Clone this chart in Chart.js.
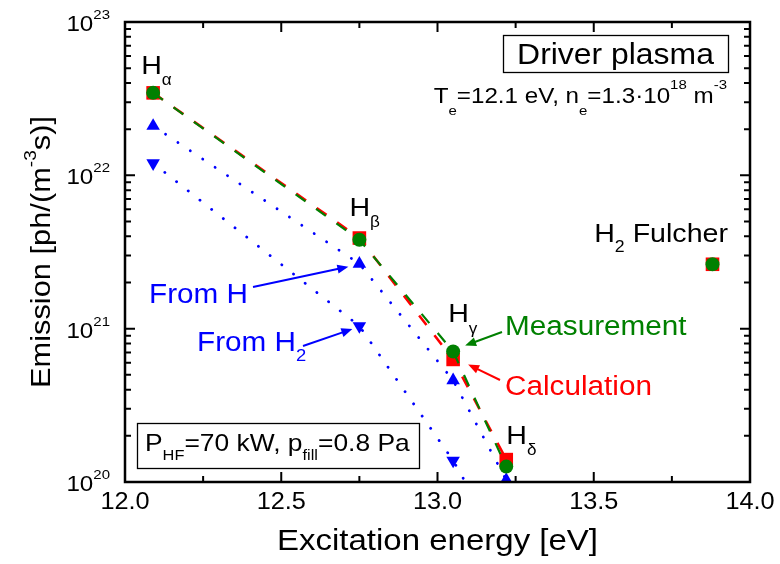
<!DOCTYPE html>
<html>
<head>
<meta charset="utf-8">
<script src="https://cdn.jsdelivr.net/npm/chart.js@4/dist/chart.umd.min.js"></script>
<style>html,body{margin:0;padding:0;background:#fff}canvas{display:block}</style>
</head>
<body>
<canvas id="c" width="780" height="564"></canvas>
<script>
// Balmer lines: excitation energy of the upper level and photon emission
const lineNames = ['α', 'β', 'γ', 'δ'];
const energies = [12.09, 12.75, 13.05, 13.22];
const measured = [3.45e22, 3.8e21, 7.1e20, 1.26e20];
const calculated = [3.45e22, 3.9e21, 6.3e20, 1.4e20];
const fromH = [2.1e22, 2.65e21, 4.6e20, 1.03e20];
const fromH2 = [1.2e22, 1.04e21, 1.38e20, 3.4e19];
// Molecular Fulcher band
const fulcherEnergy = [13.88];
const fulcherMeasured = [2.63e21];
const fulcherCalculated = [2.63e21];
// Axis ticks
const xTicks = [12.0, 12.5, 13.0, 13.5, 14.0];
const xMinorTicks = [12.25, 12.75, 13.25, 13.75];
const yExponents = [20, 21, 22, 23];

const GREEN = '#008000', RED = '#ff0000', BLUE = '#0000ff';
const FONT = '"Liberation Sans", Arial, Helvetica, sans-serif';
const SX = 1.1; // horizontal text stretch

const pts = (xs, ys) => xs.map((x, i) => ({ x, y: ys[i] }));
const fnt = s => s + 'px ' + FONT;

function richWidth(ctx, parts, size, o) {
  let w = 0;
  for (const [t, k] of parts) {
    ctx.font = fnt(k === 'n' ? size : size * o.ratio);
    w += ctx.measureText(t).width * SX;
  }
  return w;
}
function drawRich(ctx, parts, x, y, size, color, align, opts) {
  const o = Object.assign({ ratio: 0.62, sub: 0.38, sup: -0.5 }, opts || {});
  const w = richWidth(ctx, parts, size, o);
  let cx = align === 'center' ? x - w / 2 : align === 'right' ? x - w : x;
  ctx.save();
  ctx.fillStyle = color; ctx.textAlign = 'left'; ctx.textBaseline = 'alphabetic';
  for (const [t, k] of parts) {
    const s = k === 'n' ? size : size * o.ratio;
    const dy = k === 'sub' ? size * o.sub : k === 'sup' ? size * o.sup : 0;
    ctx.font = fnt(s);
    ctx.save(); ctx.translate(cx, y + dy); ctx.scale(SX, 1); ctx.fillText(t, 0, 0); ctx.restore();
    cx += ctx.measureText(t).width * SX;
  }
  ctx.restore();
  return w;
}
function arrow(ctx, x0, y0, x1, y1, color) {
  const a = Math.atan2(y1 - y0, x1 - x0), L = 11, W = 4.5;
  const c = Math.cos(a), s = Math.sin(a);
  ctx.save();
  ctx.strokeStyle = color; ctx.fillStyle = color; ctx.lineWidth = 2;
  ctx.beginPath(); ctx.moveTo(x0, y0); ctx.lineTo(x1 - c * L * 0.8, y1 - s * L * 0.8); ctx.stroke();
  ctx.beginPath();
  ctx.moveTo(x1, y1);
  ctx.lineTo(x1 - c * L - s * W, y1 - s * L + c * W);
  ctx.lineTo(x1 - c * L + s * W, y1 - s * L - c * W);
  ctx.closePath(); ctx.fill();
  ctx.restore();
}

// Frame with inward ticks, tick labels, titles and annotations
const decorations = {
  id: 'decorations',
  afterDraw(chart) {
    const ctx = chart.ctx, a = chart.chartArea;
    const xs = chart.scales.x, ys = chart.scales.y;
    ctx.save();
    ctx.strokeStyle = '#000'; ctx.lineWidth = 2.5; ctx.lineCap = 'butt';
    ctx.strokeRect(a.left, a.top, a.right - a.left, a.bottom - a.top);
    ctx.lineWidth = 2;
    const tickX = (v, len) => {
      const p = xs.getPixelForValue(v);
      ctx.beginPath();
      ctx.moveTo(p, a.bottom); ctx.lineTo(p, a.bottom - len);
      ctx.moveTo(p, a.top); ctx.lineTo(p, a.top + len);
      ctx.stroke();
    };
    const tickY = (v, len) => {
      const p = ys.getPixelForValue(v);
      ctx.beginPath();
      ctx.moveTo(a.left, p); ctx.lineTo(a.left + len, p);
      ctx.moveTo(a.right, p); ctx.lineTo(a.right - len, p);
      ctx.stroke();
    };
    xTicks.forEach(v => tickX(v, 10));
    xMinorTicks.forEach(v => tickX(v, 6));
    yExponents.forEach(e => tickY(Math.pow(10, e), 10));
    yExponents.slice(0, -1).forEach(e => {
      for (let m = 2; m <= 9; m++) tickY(m * Math.pow(10, e), 6);
    });
    ctx.restore();

    // tick labels
    xTicks.forEach(v => drawRich(ctx, [[v.toFixed(1), 'n']], xs.getPixelForValue(v), a.bottom + 27, 23, '#000', 'center'));
    yExponents.forEach(e => {
      const p = ys.getPixelForValue(Math.pow(10, e));
      drawRich(ctx, [['10', 'n'], [String(e), 'sup']], a.left - 15, p + 9, 22, '#000', 'right', { sup: -0.55 });
    });

    // axis titles
    drawRich(ctx, [['Excitation energy [eV]', 'n']], (a.left + a.right) / 2, 550, 30, '#000', 'center');
    ctx.save();
    ctx.translate(40, (a.top + a.bottom) / 2);
    ctx.rotate(-Math.PI / 2);
    drawRich(ctx, [['Emission [ph/(m', 'n'], ['-3', 'sup'], ['s)]', 'n']], 0, 10, 28, '#000', 'center');
    ctx.restore();

    // line labels next to the measured points
    const labelOffsets = [[-12, -19], [-10, -24], [-5, -29], [0, -23]];
    energies.forEach((e, i) => {
      const px = xs.getPixelForValue(e), py = ys.getPixelForValue(measured[i]);
      drawRich(ctx, [['H', 'n'], [lineNames[i], 'sub']], px + labelOffsets[i][0], py + labelOffsets[i][1], 26, '#000', 'left', { sub: 0.43, ratio: 0.6 });
    });
    drawRich(ctx, [['H', 'n'], ['2', 'sub'], [' Fulcher', 'n']], 728, 242, 26, '#000', 'right');

    // boxes
    ctx.save();
    ctx.strokeStyle = '#000'; ctx.lineWidth = 1.3;
    ctx.strokeRect(503.5, 35.5, 225, 37);
    ctx.strokeRect(137.5, 423.5, 282, 45);
    ctx.restore();
    drawRich(ctx, [['Driver plasma', 'n']], 615.5, 64, 29, '#000', 'center');
    drawRich(ctx, [['T', 'n'], ['e', 'sub'], ['=12.1 eV, n', 'n'], ['e', 'sub'], ['=1.3·10', 'n'], ['18', 'sup'], [' m', 'n'], ['-3', 'sup']],
      727, 103, 22, '#000', 'right', { sub: 0.55, sup: -0.62 });
    drawRich(ctx, [['P', 'n'], ['HF', 'sub'], ['=70 kW, p', 'n'], ['fill', 'sub'], ['=0.8 Pa', 'n']], 145, 451, 24, '#000', 'left');

    // series annotations with arrows
    const hbX = xs.getPixelForValue(energies[1]);
    const hgX = xs.getPixelForValue(energies[2]);
    drawRich(ctx, [['From H', 'n']], 149, 303, 27, BLUE, 'left');
    arrow(ctx, 253, 287, hbX - 11, ys.getPixelForValue(fromH[1]) + 3, BLUE);
    drawRich(ctx, [['From H', 'n'], ['2', 'sub']], 197, 351, 27, BLUE, 'left');
    arrow(ctx, 303, 346, hbX - 7, ys.getPixelForValue(fromH2[1]) + 3, BLUE);
    drawRich(ctx, [['Measurement', 'n']], 505, 335, 27, GREEN, 'left');
    arrow(ctx, 502, 332, hgX + 12, ys.getPixelForValue(measured[2]) - 6, GREEN);
    drawRich(ctx, [['Calculation', 'n']], 505, 395, 27, RED, 'left');
    arrow(ctx, 500, 380, hgX + 15, ys.getPixelForValue(calculated[2]) + 5, RED);
  }
};

new Chart(document.getElementById('c'), {
  type: 'line',
  data: {
    datasets: [
      { label: 'Measurement', data: pts(energies, measured), borderColor: GREEN, backgroundColor: GREEN,
        borderWidth: 2.2, borderDash: [12, 13], pointStyle: 'circle', pointRadius: 7, pointBorderWidth: 0 },
      { label: 'Measurement (Fulcher)', data: pts(fulcherEnergy, fulcherMeasured), showLine: false,
        backgroundColor: GREEN, borderColor: GREEN, pointStyle: 'circle', pointRadius: 7, pointBorderWidth: 0 },
      { label: 'Calculation', data: pts(energies, calculated), borderColor: RED, backgroundColor: RED,
        borderWidth: 2.6, borderDash: [12, 13], pointStyle: 'rect', pointRadius: 9.6, pointBorderWidth: 0 },
      { label: 'Calculation (Fulcher)', data: pts(fulcherEnergy, fulcherCalculated), showLine: false,
        backgroundColor: RED, borderColor: RED, pointStyle: 'rect', pointRadius: 9.6, pointBorderWidth: 0 },
      { label: 'From H', data: pts(energies, fromH), borderColor: BLUE, backgroundColor: BLUE,
        borderWidth: 2.8, borderDash: [0.1, 14.8], borderCapStyle: 'round',
        pointStyle: 'triangle', pointRadius: 7.8, pointBorderWidth: 0 },
      { label: 'From H2', data: pts(energies, fromH2), borderColor: BLUE, backgroundColor: BLUE,
        borderWidth: 2.8, borderDash: [0.1, 14.8], borderCapStyle: 'round',
        pointStyle: 'triangle', pointRotation: 180, pointRadius: 7.8, pointBorderWidth: 0,
        clip: { left: false, top: false, right: false, bottom: 0 } }
    ]
  },
  options: {
    responsive: false,
    animation: false,
    layout: { padding: { left: 125, right: 30, top: 22, bottom: 82 } },
    plugins: { legend: { display: false }, tooltip: { enabled: false } },
    elements: { line: { tension: 0 } },
    scales: {
      x: { type: 'linear', min: 12, max: 14, display: false },
      y: { type: 'logarithmic', min: 1e20, max: 1e23, display: false }
    }
  },
  plugins: [decorations]
});
</script>
</body>
</html>
